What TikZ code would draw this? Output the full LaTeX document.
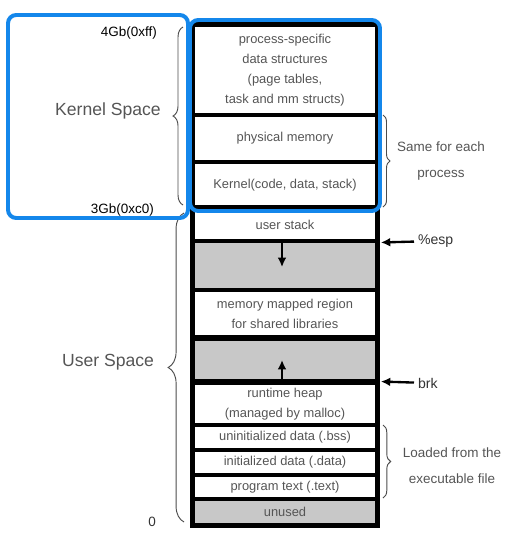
\documentclass[tikz,border=0pt]{standalone}
\usepackage{fontspec}
\setmainfont{Liberation Sans}
\usetikzlibrary{arrows.meta,decorations.pathreplacing}
\definecolor{kblue}{RGB}{20,135,235}
\definecolor{memgray}{RGB}{200,200,200}
\definecolor{memtext}{RGB}{85,85,85}

\begin{document}
\begin{tikzpicture}[x=0.03cm,y=-0.03cm,
  row/.style={draw=black,line width=2.6pt,minimum width=5.52cm,inner sep=0pt,
    align=center,text=memtext,font=\fontsize{11}{17}\selectfont},
  hole/.style={row,fill=memgray},
  brc/.style={decorate,decoration={brace,amplitude=#1},draw=black!70,line width=0.8pt},
  ptr/.style={arrows={-Latex[length=8pt,width=7.5pt]},line width=2pt},
  side/.style={text=memtext,align=center,font=\fontsize{11.5}{22}\selectfont},
  big/.style={text=memtext,font=\fontsize{15}{18}\selectfont}]
  \useasboundingbox (0,0) rectangle (509,547);

  % kernel part
  \node[row,minimum height=2.7cm] (pss) at (285,70) {process-specific\\data structures\\(page tables,\\task and mm structs)};
  \node[row,minimum height=1.41cm] (phys) at (285,138.5) {physical memory};
  \node[row,minimum height=1.38cm] (kern) at (285,185) {Kernel(code, data, stack)};
  \draw[line width=3.2pt] (pss.north west) rectangle (kern.south east);

  % user part
  \node[row,minimum height=0.99cm] (ustack) at (285,224.5) {user stack};
  \node[hole,minimum height=1.47cm] (gapa) at (285,265.5) {};
  \node[row,minimum height=1.41cm] (mmap) at (285,313.5) {memory mapped region\\for shared libraries};
  \node[hole,minimum height=1.38cm] (gapb) at (285,360) {};
  \node[row,minimum height=1.26cm] (heap) at (285,404) {runtime heap\\(managed by malloc)};
  \node[row,minimum height=0.75cm] (bss) at (285,437.5) {uninitialized data (.bss)};
  \node[row,minimum height=0.75cm] (data) at (285,462.5) {initialized data (.data)};
  \node[row,minimum height=0.72cm] (text) at (285,487) {program text (.text)};
  \node[hole,minimum height=0.78cm] (unused) at (285,512) {unused};
  \draw[line width=3.8pt] (mmap.south west) -- (mmap.south east);
  \draw[line width=3.8pt] (heap.north west) -- (heap.north east);
  \draw[line width=3.2pt] (ustack.north west) rectangle (unused.south east);

  % growth arrows
  \coordinate (sdown) at (282,267);
  \coordinate (hup) at (282,360);
  \draw[ptr] (ustack.south -| sdown) -- (sdown);
  \draw[ptr] (heap.north -| hup) -- (hup);

  % pointers
  \node[anchor=west,text=black!80,font=\fontsize{12}{14}\selectfont] (esp) at (414,241) {\%esp};
  \node[anchor=west,text=black!80,font=\fontsize{12}{14}\selectfont] (brk) at (414,383) {brk};
  \draw[ptr,shorten >=2pt] (esp) -- (ustack.south east);
  \draw[ptr,shorten >=2pt] (brk) -- (heap.north east);

  % braces
  \draw[brc=8.5pt] (183,205) -- (183,27);
  \draw[brc=13.5pt] (184,522) -- (184,213);
  \draw[brc=6pt] (383,115) -- (383,207);
  \draw[brc=6.5pt] (383,425) -- (383,498);

  % labels
  \node[anchor=east,font=\fontsize{11.5}{12}\selectfont] (top) at (161,33) {4Gb(0xff)};
  \node[anchor=east,font=\fontsize{11.5}{12}\selectfont] (mid) at (158,210) {3Gb(0xc0)};
  \node[anchor=east,font=\fontsize{11.5}{12}\selectfont,text=black!80] (zero) at (160,522) {0};
  \node[big] (kspace) at (108,111) {Kernel Space};
  \node[big] (uspace) at (108,362) {User Space};
  \node[side] (same) at (441,161) {Same for each\\process};
  \node[side] (loaded) at (452,466) {Loaded from the\\executable file};

  % highlight
  \draw[kblue,line width=3.4pt,rounded corners=7pt] (8,15) rectangle (188,218);
  \draw[kblue,line width=3.4pt,rounded corners=7pt] (190,20) rectangle (380,211);
\end{tikzpicture}
\end{document}
